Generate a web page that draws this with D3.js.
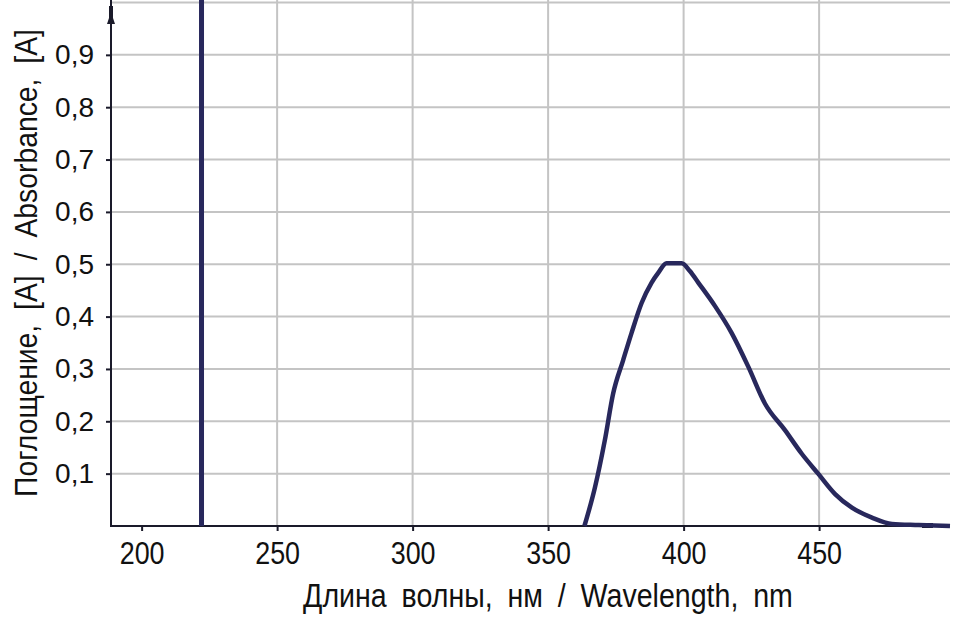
<!DOCTYPE html>
<meta charset="utf-8">
<style>
  body { margin: 0; background: #fff; }
  text { font-family: "Liberation Sans", Arial, sans-serif; fill: #111; }
</style>
<body>
<div id="chart"></div>
<script src="https://d3js.org/d3.v7.min.js"></script>
<script>

// spectrum
var wavelength = [363.4, 367.3, 370.9, 374.0, 377.7, 380.8, 384.5, 388.2, 390.7, 393.7, 399.3, 402.3, 405.4, 411.6, 417.7, 423.9, 430.0, 437.4, 443.6, 449.8, 455.9, 462.1, 469.5, 476.9, 486.7, 498.3];
var absorbance = [0, 0.074, 0.163, 0.253, 0.317, 0.369, 0.426, 0.465, 0.484, 0.502, 0.502, 0.487, 0.465, 0.42, 0.369, 0.304, 0.234, 0.183, 0.138, 0.099, 0.061, 0.035, 0.016, 0.004, 0.002, 0];
var markerWavelength = 222.1;
var xTicks = [200, 250, 300, 350, 400, 450];
var yTicks = [0.1, 0.2, 0.3, 0.4, 0.5, 0.6, 0.7, 0.8, 0.9];
var xTitle = "Длина волны, нм / Wavelength, nm";
var yTitle = "Поглощение, [A] / Absorbance, [A]";

var W = 955, H = 618;
var svg = d3.select("#chart").append("svg")
    .attr("width", W)
    .attr("height", H);

var x = d3.scaleLinear().domain([188.7, 498.3]).range([111, 950]);
var y = d3.scaleLinear().domain([0, 1]).range([526, 2.5]);

var navy = "#28285c";

// squeeze text horizontally to look like the narrow font of the original
function squeeze(sel, k) {
  sel.each(function() {
    var len = this.getComputedTextLength();
    d3.select(this).attr("textLength", len * k).attr("lengthAdjust", "spacingAndGlyphs");
  });
}

// grid
svg.append("g")
  .selectAll("line")
  .data(xTicks.slice(1))
  .enter().append("line")
    .attr("x1", function(d) { return x(d); })
    .attr("x2", function(d) { return x(d); })
    .attr("y1", 0)
    .attr("y2", y(0))
    .style("stroke", "#c4c4c4")
    .style("stroke-width", 2);

svg.append("g")
  .selectAll("line")
  .data(yTicks.concat([1]))
  .enter().append("line")
    .attr("x1", x.range()[0])
    .attr("x2", x.range()[1])
    .attr("y1", function(d) { return y(d); })
    .attr("y2", function(d) { return y(d); })
    .style("stroke", "#c4c4c4")
    .style("stroke-width", 2);

// axes
var xAxis = svg.append("g")
    .attr("transform", "translate(0," + y(0) + ")")
    .call(d3.axisBottom(x).tickValues(xTicks).tickSize(5).tickPadding(10));
var yAxis = svg.append("g")
    .attr("transform", "translate(" + x.range()[0] + ",0)")
    .call(d3.axisLeft(y).tickValues(yTicks).tickSize(5).tickPadding(12)
      .tickFormat(function(d) { return d3.format(".1f")(d).replace(".", ","); }));

[xAxis, yAxis].forEach(function(a) {
  a.select(".domain").remove();
  a.selectAll("line").style("stroke", "#1a1a2a").style("stroke-width", 2);
  a.selectAll("text").style("font-family", null);
});
xAxis.selectAll("text").style("font-size", "32px").call(squeeze, 0.84);
yAxis.selectAll("text").style("font-size", "28px");

svg.append("line")
    .attr("x1", x.range()[0]).attr("x2", x.range()[0])
    .attr("y1", 0).attr("y2", y(0) + 1)
    .style("stroke", "#1a1a2a").style("stroke-width", 2);
svg.append("line")
    .attr("x1", x.range()[0] - 1).attr("x2", x.range()[1])
    .attr("y1", y(0)).attr("y2", y(0))
    .style("stroke", "#1a1a2a").style("stroke-width", 2);

// little cursor marks at the ends of the axes
var ax = x.range()[0];
svg.append("path")
    .attr("d", "M" + (ax - 2) + ",6 L" + (ax + 2) + ",6 L" + (ax + 2) + ",18 L" + (ax + 4) + ",24 L" + (ax - 4) + ",24 L" + (ax - 2) + ",18 Z")
    .style("fill", "#1a1a2a");
svg.append("rect")
    .attr("x", 922).attr("y", y(0) - 3)
    .attr("width", 11).attr("height", 5)
    .style("fill", "#1a1a2a");

// marker line
svg.append("line")
    .attr("x1", x(markerWavelength)).attr("x2", x(markerWavelength))
    .attr("y1", 0).attr("y2", y(0))
    .style("stroke", navy).style("stroke-width", 5);

// spectrum
var line = d3.line()
    .x(function(d, i) { return x(wavelength[i]); })
    .y(function(d) { return y(d); })
    .curve(d3.curveMonotoneX);

svg.append("path")
    .datum(absorbance)
    .attr("d", line)
    .style("fill", "none")
    .style("stroke", navy)
    .style("stroke-width", 4.5);

// titles: scaled to the width they have in the original
function title(txt, cx, cy, rot, size, width) {
  var t = svg.append("text")
      .attr("text-anchor", "middle")
      .style("font-size", size + "px")
      .style("word-spacing", "8px")
      .text(txt);
  var k = width / t.node().getComputedTextLength();
  t.attr("transform", "translate(" + cx + "," + cy + ") rotate(" + rot + ") scale(" + k + ",1)");
}
title(xTitle, 548, 607, 0, 33, 490);
title(yTitle, 37, 263, -90, 32, 468);

</script>
</body>
